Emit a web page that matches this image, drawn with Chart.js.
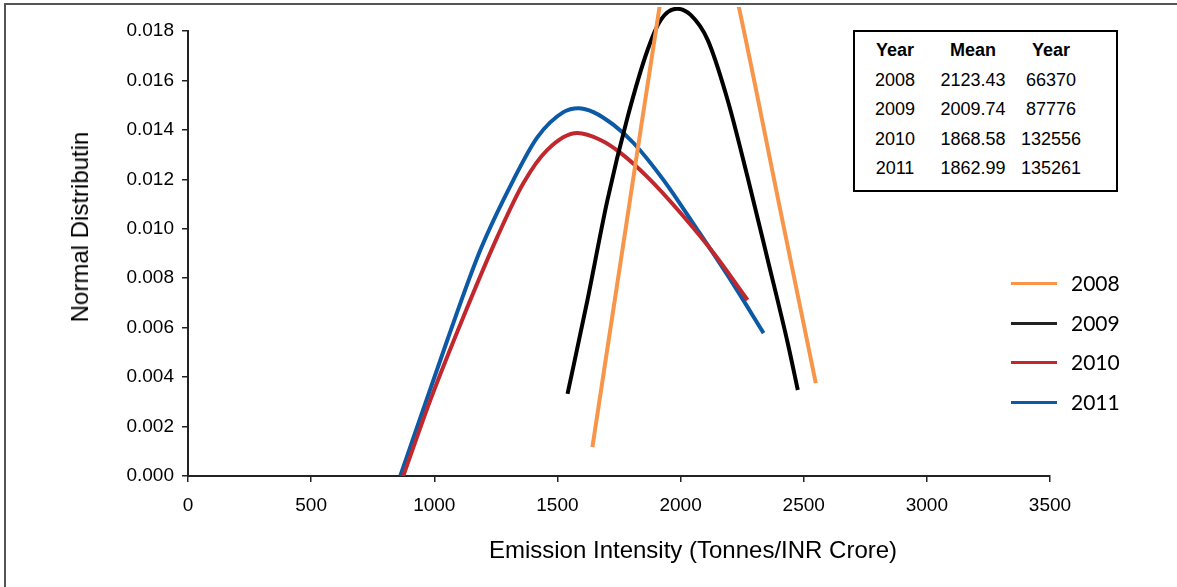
<!DOCTYPE html>
<html>
<head>
<meta charset="utf-8">
<title>Normal Distribution of Emission Intensity</title>
<script src="https://cdn.jsdelivr.net/npm/chart.js@4.4.0/dist/chart.umd.min.js"></script>
<style>
  body { margin: 0; background: #fff; }
  #wrap { position: relative; width: 1177px; height: 587px; overflow: hidden; }
  #frame { position: absolute; left: 4px; top: 3px; width: 1180px; height: 600px;
           border-top: 2px solid #555; border-left: 2px solid #555; }
  #chart { position: absolute; left: 0; top: 0; }
  .axis-title { position: absolute; font-family: "Liberation Sans", Arial, sans-serif;
                font-size: 24px; color: #000; white-space: nowrap; }
  #x-title { left: 693px; top: 550px; transform: translate(-50%, -50%); }
  #y-title { left: 80px; top: 227px; transform: translate(-50%, -50%) rotate(-90deg); }
  #stats { position: absolute; left: 853px; top: 30px; width: 261px; height: 158px;
           border: 2px solid #000; background: #fff; }
  #stats table { border-collapse: collapse; table-layout: fixed; margin-top: 4px;
                 font-family: "Liberation Sans", Arial, sans-serif; font-size: 18px; color: #000; }
  #stats td, #stats th { height: 29.5px; padding: 0; text-align: center; }
  #stats th { font-weight: bold; }
  #legend { position: absolute; left: 1011px; top: 0; }
  .legend-item { position: absolute; left: 0; height: 30px; width: 150px;
                 font-family: Lato, "Open Sans", sans-serif; font-size: 21px; color: #000; }
  .legend-line { position: absolute; left: 0; top: 13px; width: 46px; height: 3px; }
  .legend-text { position: absolute; left: 60px; top: 1px; line-height: 26px; }
</style>
</head>
<body>
<div id="wrap">
  <div id="frame"></div>
  <canvas id="chart" width="1177" height="587"></canvas>
  <div class="axis-title" id="x-title">Emission Intensity (Tonnes/INR Crore)</div>
  <div class="axis-title" id="y-title">Normal Distributin</div>
  <div id="stats"></div>
  <div id="legend"></div>
</div>

<script>
// series (x = emission intensity, y = normal distribution)
var series_names  = ['2008', '2009', '2010', '2011'];
var series_colors = ['#F7964A', '#000000', '#C1282E', '#0C59A6'];
var legend_colors = ['#F7964A', '#222222', '#C1282E', '#0C59A6'];

var x_2008 = [1642, 1780, 1915, 2050, 2236, 2400, 2549];
var y_2008 = [0.00117, 0.0102, 0.0190, 0.0270, 0.0190, 0.0110, 0.00376];

var x_2009 = [1541, 1622, 1703, 1785, 1866, 1919, 1985, 2041, 2110, 2191, 2272, 2354, 2435, 2476];
var y_2009 = [0.00332, 0.00712, 0.01116, 0.01452, 0.01723, 0.01844, 0.0189, 0.01865, 0.01764, 0.01521, 0.01209, 0.00874, 0.00538, 0.00348];

var x_2010 = [874, 984, 1118, 1256, 1362, 1459, 1581, 1675, 1756, 1866, 2000, 2134, 2272];
var y_2010 = [0, 0.00307, 0.00643, 0.00967, 0.01185, 0.01319, 0.01387, 0.01359, 0.01307, 0.01209, 0.01064, 0.00902, 0.00712];

var x_2011 = [862, 1053, 1187, 1321, 1419, 1524, 1585, 1646, 1728, 1809, 1931, 2069, 2203, 2337];
var y_2011 = [0, 0.0055, 0.00914, 0.01197, 0.01371, 0.01472, 0.01488, 0.01472, 0.0142, 0.01347, 0.01197, 0.00995, 0.00793, 0.00578];

// ticks
var x_ticks = [0, 500, 1000, 1500, 2000, 2500, 3000, 3500];
var y_ticks = [0, 0.002, 0.004, 0.006, 0.008, 0.010, 0.012, 0.014, 0.016, 0.018];

// summary box
var table_header = ['Year', 'Mean', 'Year'];
var table_years  = ['2008', '2009', '2010', '2011'];
var table_means  = ['2123.43', '2009.74', '1868.58', '1862.99'];
var table_counts = ['66370', '87776', '132556', '135261'];


make_points = function(xs, ys)
{
  var pts = [];
  for (var i = 0; i < xs.length; i++)
  {
    pts.push({x: xs[i], y: ys[i]});
  }
  return pts;
};

build_dataset = function(idx, xs, ys)
{
  return {
    label: series_names[idx],
    data: make_points(xs, ys),
    borderColor: series_colors[idx],
    backgroundColor: series_colors[idx],
    borderWidth: 4,
    pointRadius: 0,
    cubicInterpolationMode: 'monotone',
    fill: false,
    clip: {left: 0, top: 24, right: 0, bottom: 0}
  };
};

render_table = function()
{
  var html = '<table><colgroup><col style="width:80px"><col style="width:76px"><col style="width:80px"></colgroup>';
  html += '<tr><th>' + table_header.join('</th><th>') + '</th></tr>';
  for (var i = 0; i < table_years.length; i++)
  {
    html += '<tr><td>' + table_years[i] + '</td><td>' + table_means[i] + '</td><td>' + table_counts[i] + '</td></tr>';
  }
  html += '</table>';
  document.getElementById('stats').innerHTML = html;
};

render_legend = function()
{
  var legend_tops = [269, 309, 348, 388];
  var html = '';
  for (var i = 0; i < series_names.length; i++)
  {
    html += '<div class="legend-item" style="top:' + legend_tops[i] + 'px">' +
            '<span class="legend-line" style="background:' + legend_colors[i] + '"></span>' +
            '<span class="legend-text">' + series_names[i] + '</span></div>';
  }
  document.getElementById('legend').innerHTML = html;
};

Chart.defaults.font.family = '"Liberation Sans", Arial, sans-serif';
Chart.defaults.color = '#000';

var ctx = document.getElementById('chart').getContext('2d');

new Chart(ctx, {
  type: 'line',
  data: {
    datasets: [
      build_dataset(0, x_2008, y_2008),
      build_dataset(1, x_2009, y_2009),
      build_dataset(2, x_2010, y_2010),
      build_dataset(3, x_2011, y_2011)
    ]
  },
  options: {
    responsive: false,
    animation: false,
    events: [],
    layout: { padding: { left: 0, right: 127, top: 31, bottom: 0 } },
    plugins: { legend: { display: false }, tooltip: { enabled: false } },
    scales: {
      x: {
        type: 'linear',
        min: x_ticks[0],
        max: x_ticks[x_ticks.length - 1],
        afterBuildTicks: function(scale) { scale.ticks = x_ticks.map(function(v) { return {value: v}; }); },
        afterFit: function(scale) { scale.height = 111; },
        ticks: { font: { size: 19 }, padding: 12, maxRotation: 0, color: '#000',
                 callback: function(v) { return String(v); } },
        grid: { drawOnChartArea: false, drawTicks: true, tickLength: 6, color: '#222', lineWidth: 1.5 },
        border: { display: true, color: '#222', width: 2 }
      },
      y: {
        type: 'linear',
        min: y_ticks[0],
        max: y_ticks[y_ticks.length - 1],
        afterBuildTicks: function(scale) { scale.ticks = y_ticks.map(function(v) { return {value: v}; }); },
        afterFit: function(scale) { scale.width = 188; },
        ticks: { font: { size: 19 }, padding: 8, color: '#000',
                 callback: function(v) { return v.toFixed(3); } },
        grid: { drawOnChartArea: false, drawTicks: true, tickLength: 6, color: '#222', lineWidth: 1.5 },
        border: { display: true, color: '#222', width: 2 }
      }
    }
  }
});

render_table();
render_legend();
</script>
</body>
</html>
